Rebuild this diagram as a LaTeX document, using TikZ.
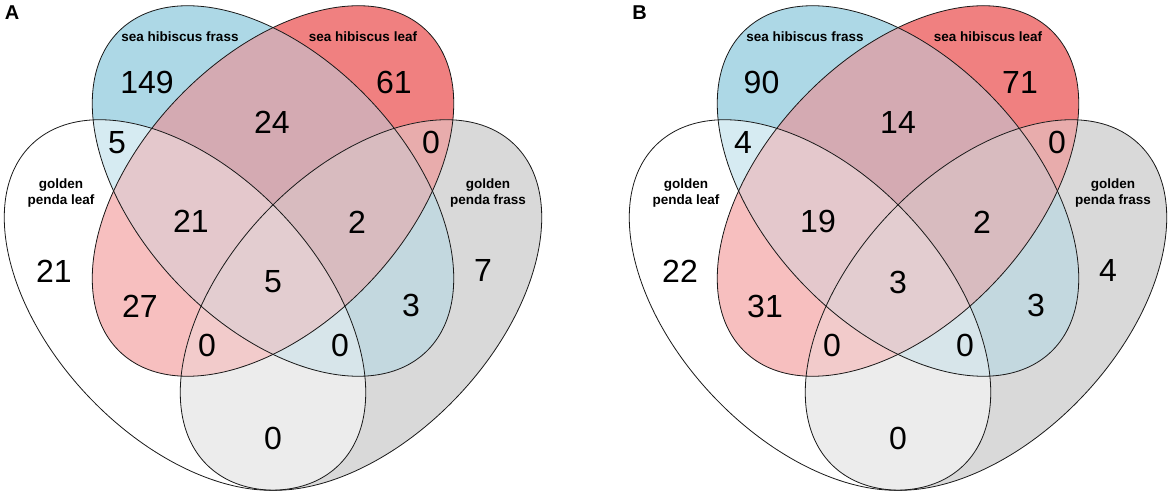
\documentclass[tikz,border=0pt]{standalone}
\usepackage{fontspec}
\setmainfont{Liberation Sans}
\definecolor{cW}{RGB}{255,255,255}
\definecolor{cB}{RGB}{173,216,230}
\definecolor{cR}{RGB}{240,128,128}
\definecolor{cG}{RGB}{217,217,217}
\definecolor{cWB}{RGB}{214,235,242}
\definecolor{cWR}{RGB}{247,191,191}
\definecolor{cWG}{RGB}{236,236,236}
\definecolor{cBR}{RGB}{212,170,178}
\definecolor{cBG}{RGB}{195,216,223}
\definecolor{cRG}{RGB}{232,172,172}
\definecolor{cWBR}{RGB}{228,200,204}
\definecolor{cWBG}{RGB}{215,229,234}
\definecolor{cWRG}{RGB}{242,203,203}
\definecolor{cBRG}{RGB}{216,187,191}
\definecolor{cAll}{RGB}{227,205,208}
\newcommand\vEW{(185,190) ellipse [x radius=222pt, y radius=133pt, rotate=-46.5]}
\newcommand\vEB{(273,304) ellipse [x radius=222pt, y radius=133pt, rotate=-46.5]}
\newcommand\vER{(273,304) ellipse [x radius=222pt, y radius=133pt, rotate=46.5]}
\newcommand\vEG{(361,190) ellipse [x radius=222pt, y radius=133pt, rotate=46.5]}
\newcommand\vfpair[3]{\begin{scope}\clip #1; \fill[#3] #2;\end{scope}}
\newcommand\vftri[4]{\begin{scope}\clip #1; \clip #2; \fill[#4] #3;\end{scope}}
\newcommand\vfquad[5]{\begin{scope}\clip #1; \clip #2; \clip #3; \fill[#5] #4;\end{scope}}
\newcommand\vennshapes{%
  \fill[cW] \vEW; \fill[cB] \vEB; \fill[cR] \vER; \fill[cG] \vEG;
  \vfpair{\vEW}{\vEB}{cWB}
  \vfpair{\vEW}{\vER}{cWR}
  \vfpair{\vEW}{\vEG}{cWG}
  \vfpair{\vEB}{\vER}{cBR}
  \vfpair{\vEB}{\vEG}{cBG}
  \vfpair{\vER}{\vEG}{cRG}
  \vftri{\vEW}{\vEB}{\vER}{cWBR}
  \vftri{\vEW}{\vEB}{\vEG}{cWBG}
  \vftri{\vEW}{\vER}{\vEG}{cWRG}
  \vftri{\vEB}{\vER}{\vEG}{cBRG}
  \vfquad{\vEW}{\vEB}{\vER}{\vEG}{cAll}
  \draw[vline] \vEW; \draw[vline] \vEB; \draw[vline] \vER; \draw[vline] \vEG;
}
\tikzset{
  vline/.style={draw=black!90, line width=0.8pt},
  num/.style={font=\fontsize{32}{32}\selectfont, inner sep=0pt},
  setlab/.style={font=\bfseries\fontsize{13.5}{16}\selectfont, align=center, inner sep=0pt},
  panlab/.style={font=\bfseries\fontsize{20}{20}\selectfont, inner sep=0pt}
}
\newcommand\vennlabels[1]{%
  \node[setlab] (#1shf) at (180,458) {sea hibiscus frass};
  \node[setlab] (#1shl) at (363,458) {sea hibiscus leaf};
  \node[setlab] (#1gpl) at (61,302) {golden\\penda leaf};
  \node[setlab] (#1gpf) at (488,302) {golden\\penda frass};
}
\begin{document}
\begin{tikzpicture}[x=1pt,y=1pt]
\useasboundingbox (0,0) rectangle (1170,495);
% Panel A
\vennshapes
\vennlabels{a}
\node[panlab] (pa) at (12,482) {A};
\node[num] (a1) at (147,413) {149};
\node[num] (a2) at (394,412.5) {61};
\node[num] (a3) at (272,373) {24};
\node[num] (a4) at (117,352.5) {5};
\node[num] (a5) at (431,352.5) {0};
\node[num] (a6) at (191,274) {21};
\node[num] (a7) at (357,273) {2};
\node[num] (a8) at (54,224) {21};
\node[num] (a9) at (483,225) {7};
\node[num] (a10) at (273,213) {5};
\node[num] (a11) at (140,189) {27};
\node[num] (a12) at (411,190) {3};
\node[num] (a13) at (207,150) {0};
\node[num] (a14) at (340,150) {0};
\node[num] (a15) at (273,57) {0};
% Panel B
\begin{scope}[xshift=625pt]
\vennshapes
\vennlabels{b}
\end{scope}
\node[panlab] (pb) at (639.5,482) {B};
\node[num] (b1) at (761.5,413) {90};
\node[num] (b2) at (1020,412.5) {71};
\node[num] (b3) at (898,373) {14};
\node[num] (b4) at (743,352.5) {4};
\node[num] (b5) at (1057,352.5) {0};
\node[num] (b6) at (818,274) {19};
\node[num] (b7) at (982,273) {2};
\node[num] (b8) at (680,224) {22};
\node[num] (b9) at (1108,225) {4};
\node[num] (b10) at (898,213) {3};
\node[num] (b11) at (765,189) {31};
\node[num] (b12) at (1036,190) {3};
\node[num] (b13) at (832,150) {0};
\node[num] (b14) at (965,150) {0};
\node[num] (b15) at (898,57) {0};
\end{tikzpicture}
\end{document}
